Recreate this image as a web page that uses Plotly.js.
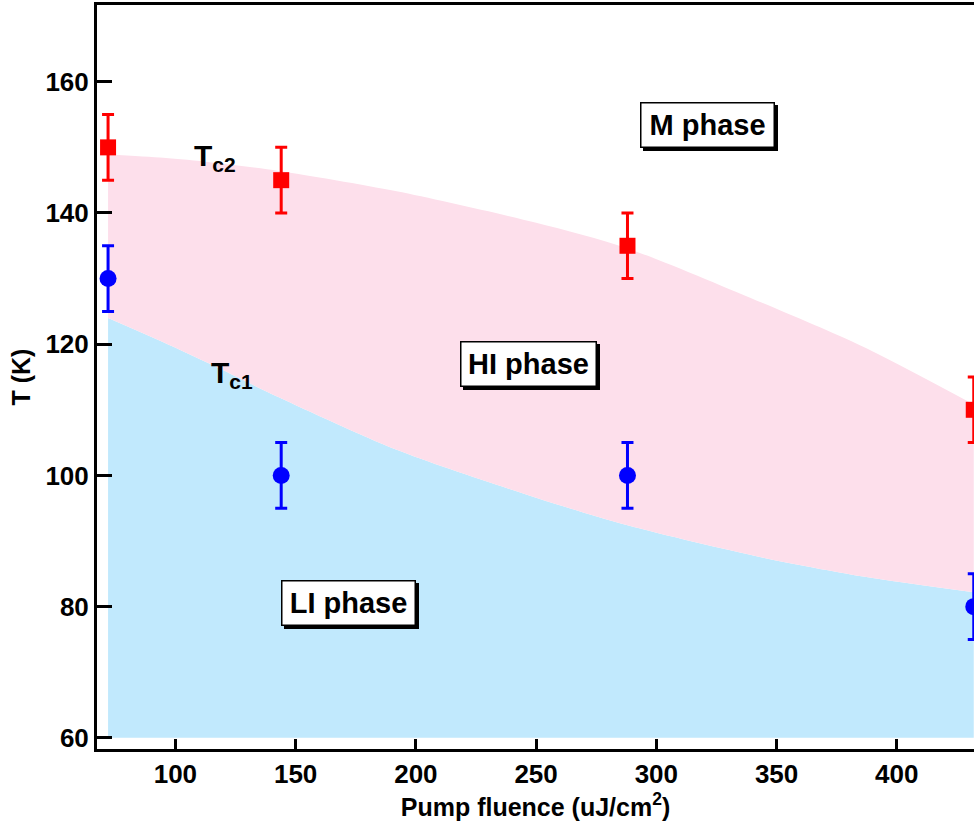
<!DOCTYPE html>
<html>
<head>
<meta charset="utf-8">
<script src="https://cdn.plot.ly/plotly-3.0.1.min.js"></script>
<style>html,body{margin:0;padding:0;background:#fff;}#chart{width:974px;height:825px;}</style>
</head>
<body>
<div id="chart"></div>
<script>
// Measured data points
var fluence = [72, 144, 288, 432];
var tc2 = [150, 145, 135, 110];
var tc2Err = [5, 5, 5, 5];
var tc1 = [130, 100, 100, 80];
var tc1Err = [5, 5, 5, 5];

// Phase boundary curves
var bandX = [72, 95, 115, 143, 192, 250, 288, 344, 386, 432];
var tc2Curve = [148.9, 148.4, 147.7, 146.4, 143.3, 138.5, 134.6, 126.3, 119.6, 110.8];
var tc1Curve = [124.0, 120.3, 116.9, 111.9, 103.9, 96.6, 92.4, 87.5, 84.6, 82.2];
var baseCurve = [60, 60, 60, 60, 60, 60, 60, 60, 60, 60];

var xTicks = [100, 150, 200, 250, 300, 350, 400];
var yTicks = [60, 80, 100, 120, 140, 160];

var FONT = 'Liberation Sans, Arial, Helvetica, sans-serif';
var PINK = '#fddfeb';
var BLUE = '#c1e9fd';

var traces = [
  {x: bandX, y: baseCurve, mode: 'lines', line: {width: 0}, hoverinfo: 'skip', showlegend: false},
  {x: bandX, y: tc1Curve, mode: 'lines', line: {width: 0, shape: 'spline', smoothing: 0.8}, fill: 'tonexty', fillcolor: BLUE, hoverinfo: 'skip', showlegend: false},
  {x: bandX, y: tc2Curve, mode: 'lines', line: {width: 0, shape: 'spline', smoothing: 0.8}, fill: 'tonexty', fillcolor: PINK, hoverinfo: 'skip', showlegend: false},
  {x: fluence, y: tc2, mode: 'markers', marker: {symbol: 'square', size: 16, color: '#ff0000'},
   error_y: {type: 'data', array: tc2Err, visible: true, color: '#ff0000', thickness: 3, width: 6}, showlegend: false},
  {x: fluence, y: tc1, mode: 'markers', marker: {symbol: 'circle', size: 17, color: '#0000ff'},
   error_y: {type: 'data', array: tc1Err, visible: true, color: '#0000ff', thickness: 3, width: 6}, showlegend: false}
];

function phaseBox(text, x, y, w) {
  var f = {family: FONT, size: 29, color: '#000', weight: 'bold'};
  return [
    {x: x, y: y, xref: 'x', yref: 'y', text: ' ', showarrow: false, font: f, width: w, height: 35,
     bgcolor: '#000', bordercolor: '#000', borderwidth: 1.5, borderpad: 4, xshift: 3, yshift: -3},
    {x: x, y: y, xref: 'x', yref: 'y', text: text, showarrow: false, font: f, width: w, height: 35,
     bgcolor: '#fff', bordercolor: '#000', borderwidth: 1.5, borderpad: 4}
  ];
}

var annotations = [].concat(
  phaseBox('M phase', 321.1, 153.45, 124),
  phaseBox('HI phase', 247.0, 117.0, 126),
  phaseBox('LI phase', 171.9, 80.5, 124),
  [
    {x: 107, y: 148.4, xref: 'x', yref: 'y', xanchor: 'left', text: 'T<sub>c2</sub>', showarrow: false,
     font: {family: FONT, size: 30, color: '#000', weight: 'bold'}},
    {x: 114, y: 115.4, xref: 'x', yref: 'y', xanchor: 'left', text: 'T<sub>c1</sub>', showarrow: false,
     font: {family: FONT, size: 30, color: '#000', weight: 'bold'}}
  ]
);

var layout = {
  width: 974, height: 825,
  margin: {l: 97, r: 0, t: 5, b: 76},
  paper_bgcolor: '#fff', plot_bgcolor: '#fff',
  showlegend: false,
  xaxis: {
    range: [67.4, 432.1], tickvals: xTicks, ticktext: xTicks.map(String),
    ticks: 'inside', ticklen: 10, tickwidth: 3, tickcolor: '#000',
    showline: true, linewidth: 3, linecolor: '#000', mirror: true,
    showgrid: false, zeroline: false,
    tickfont: {family: FONT, size: 26, color: '#000', weight: 'bold'},
    title: {text: 'Pump fluence (uJ/cm<sup>2</sup>)', font: {family: FONT, size: 25, color: '#000', weight: 'bold'}, standoff: 8}
  },
  yaxis: {
    range: [58.3, 171.7], tickvals: yTicks, ticktext: yTicks.map(String),
    ticks: 'inside', ticklen: 15, tickwidth: 3, tickcolor: '#000',
    showline: true, linewidth: 3, linecolor: '#000', mirror: false,
    showgrid: false, zeroline: false,
    tickfont: {family: FONT, size: 26, color: '#000', weight: 'bold'},
    title: {text: 'T (K)', font: {family: FONT, size: 25, color: '#000', weight: 'bold'}, standoff: 8}
  },
  annotations: annotations
};

Plotly.newPlot('chart', traces, layout, {displayModeBar: false, staticPlot: true});
</script>
</body>
</html>
